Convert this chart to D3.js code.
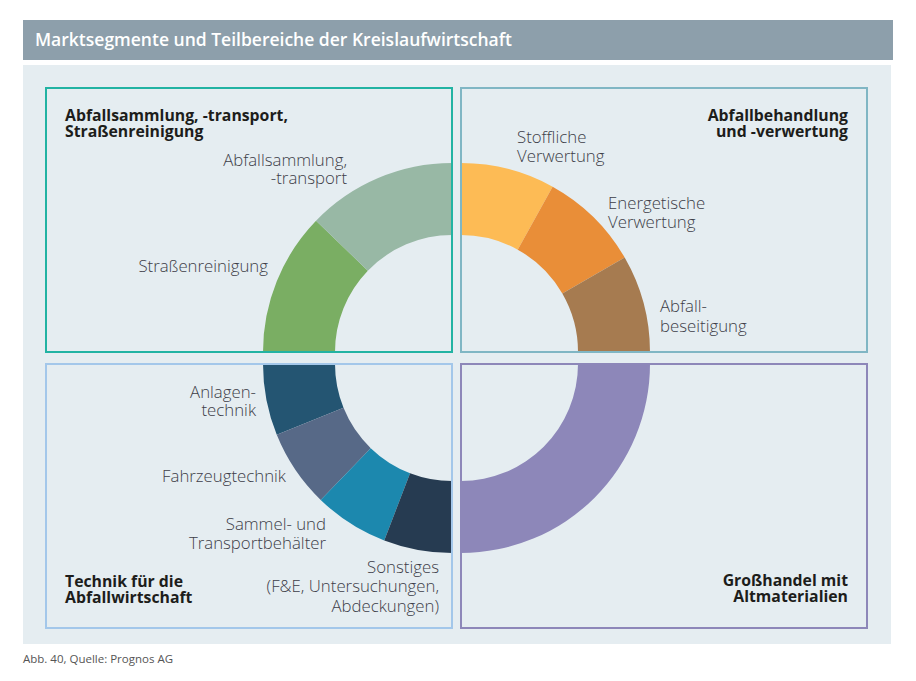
<!DOCTYPE html>
<html>
<head>
<meta charset="utf-8">
<script src="https://cdn.jsdelivr.net/npm/d3@7"></script>
<style>
  body { margin: 0; background: #fff; }
  text { font-family: "Open Sans", sans-serif; }
</style>
</head>
<body>
<svg id="chart" width="916" height="681"></svg>
<script>
// Segments per quadrant (values = share of the quarter circle)
var tlNames = ["Straßenreinigung", "Abfallsammlung, -transport"];
var tlValues = [44, 46];
var trNames = ["Stoffliche Verwertung", "Energetische Verwertung", "Abfallbeseitigung"];
var trValues = [29, 31, 30];
var brNames = ["Großhandel mit Altmaterialien"];
var brValues = [90];
var blNames = ["Anlagentechnik", "Fahrzeugtechnik", "Sammel- und Transportbehälter", "Sonstiges"];
var blValues = [22, 24, 23, 21];

var groupTitles = [
    ["Abfallsammlung, -transport,", "Straßenreinigung"],
    ["Abfallbehandlung", "und -verwertung"],
    ["Technik für die", "Abfallwirtschaft"],
    ["Großhandel mit", "Altmaterialien"]
];

var tlColors = ["#7aae63", "#98b8a5"];
var trColors = ["#fdbb55", "#e98e38", "#a67b50"];
var brColors = ["#8d87b9"];
var blColors = ["#245572", "#576987", "#1c88ae", "#263b51"];

var svg = d3.select("#chart");

// title bar
svg.append("rect").attr("x", 23).attr("y", 20).attr("width", 870).attr("height", 40).attr("fill", "#8d9fab");
svg.append("text").attr("x", 35).attr("y", 46).text("Marktsegmente und Teilbereiche der Kreislaufwirtschaft")
    .attr("fill", "#fff").style("font-size", "17.5px").style("font-weight", 600);

// light panel
svg.append("rect").attr("x", 23).attr("y", 65).attr("width", 868).attr("height", 579).attr("fill", "#e5edf1");

// footer
svg.append("text").attr("x", 23).attr("y", 663).text("Abb. 40, Quelle: Prognos AG")
    .attr("fill", "#555").style("font-size", "11.5px");

var rOuter = 189, rInner = 117;
var arc = d3.arc().innerRadius(rInner).outerRadius(rOuter);

// each quadrant: box + its quarter of the ring, centred at the box's inner corner
var quads = [
    {box: [46, 88, 452, 352], cx: 452, cy: 352, names: tlNames, values: tlValues, colors: tlColors, a0: -Math.PI / 2, a1: 0, stroke: "#22b3a3"},
    {box: [461, 88, 867, 352], cx: 461, cy: 352, names: trNames, values: trValues, colors: trColors, a0: 0, a1: Math.PI / 2, stroke: "#80b6c4"},
    {box: [46, 364, 452, 628], cx: 452, cy: 364, names: blNames, values: blValues, colors: blColors, a0: -Math.PI / 2, a1: -Math.PI, stroke: "#a3c7ea"},
    {box: [461, 364, 867, 628], cx: 461, cy: 364, names: brNames, values: brValues, colors: brColors, a0: Math.PI / 2, a1: Math.PI, stroke: "#8d87b9"}
];

quads.forEach(function (q) {
    var pie = d3.pie().sort(null).startAngle(q.a0).endAngle(q.a1);
    var g = svg.append("g").attr("transform", "translate(" + q.cx + "," + q.cy + ")");
    g.selectAll("path")
        .data(pie(q.values))
        .enter().append("path")
        .attr("d", arc)
        .attr("fill", function (d, i) { return q.colors[i]; });
});

quads.forEach(function (q) {
    var b = q.box;
    svg.append("rect").attr("x", b[0]).attr("y", b[1]).attr("width", b[2] - b[0]).attr("height", b[3] - b[1])
        .attr("fill", "none").attr("stroke", q.stroke).attr("stroke-width", 2);
});

// bold group titles
var titleLayout = [
    {x: 65, y: 121, anchor: "start"},
    {x: 848, y: 121, anchor: "end"},
    {x: 65, y: 587, anchor: "start"},
    {x: 848, y: 586, anchor: "end"}
];
groupTitles.forEach(function (lines, i) {
    var t = svg.append("text").attr("x", titleLayout[i].x).attr("y", titleLayout[i].y)
        .attr("text-anchor", titleLayout[i].anchor)
        .attr("fill", "#1d1d1b").style("font-size", "15.8px").style("font-weight", 700);
    lines.forEach(function (l, j) {
        t.append("tspan").attr("x", titleLayout[i].x).attr("dy", j == 0 ? 0 : 16).text(l);
    });
});

// segment labels
var segLabels = [
    {lines: ["Abfallsammlung,", "-transport"], x: 347, y: 166, dy: 18, anchor: "end"},
    {lines: ["Straßenreinigung"], x: 268, y: 272, dy: 18, anchor: "end"},
    {lines: ["Stoffliche", "Verwertung"], x: 517, y: 143, dy: 19, anchor: "start"},
    {lines: ["Energetische", "Verwertung"], x: 608, y: 209, dy: 19, anchor: "start"},
    {lines: ["Abfall-", "beseitigung"], x: 660, y: 312, dy: 20, anchor: "start"},
    {lines: ["Anlagen-", "technik"], x: 256, y: 398, dy: 18, anchor: "end"},
    {lines: ["Fahrzeugtechnik"], x: 286, y: 482, dy: 18, anchor: "end"},
    {lines: ["Sammel- und", "Transportbehälter"], x: 326, y: 530, dy: 18.5, anchor: "end"},
    {lines: ["Sonstiges", "(F&E, Untersuchungen,", "Abdeckungen)"], x: 439, y: 573, dy: 19.3, anchor: "end"}
];
segLabels.forEach(function (s) {
    var t = svg.append("text").attr("x", s.x).attr("y", s.y).attr("text-anchor", s.anchor)
        .attr("fill", "#3d3d48").style("font-size", "16.8px").style("font-weight", 300);
    s.lines.forEach(function (l, j) {
        t.append("tspan").attr("x", s.x).attr("dy", j == 0 ? 0 : s.dy).text(l);
    });
});
</script>
</body>
</html>
